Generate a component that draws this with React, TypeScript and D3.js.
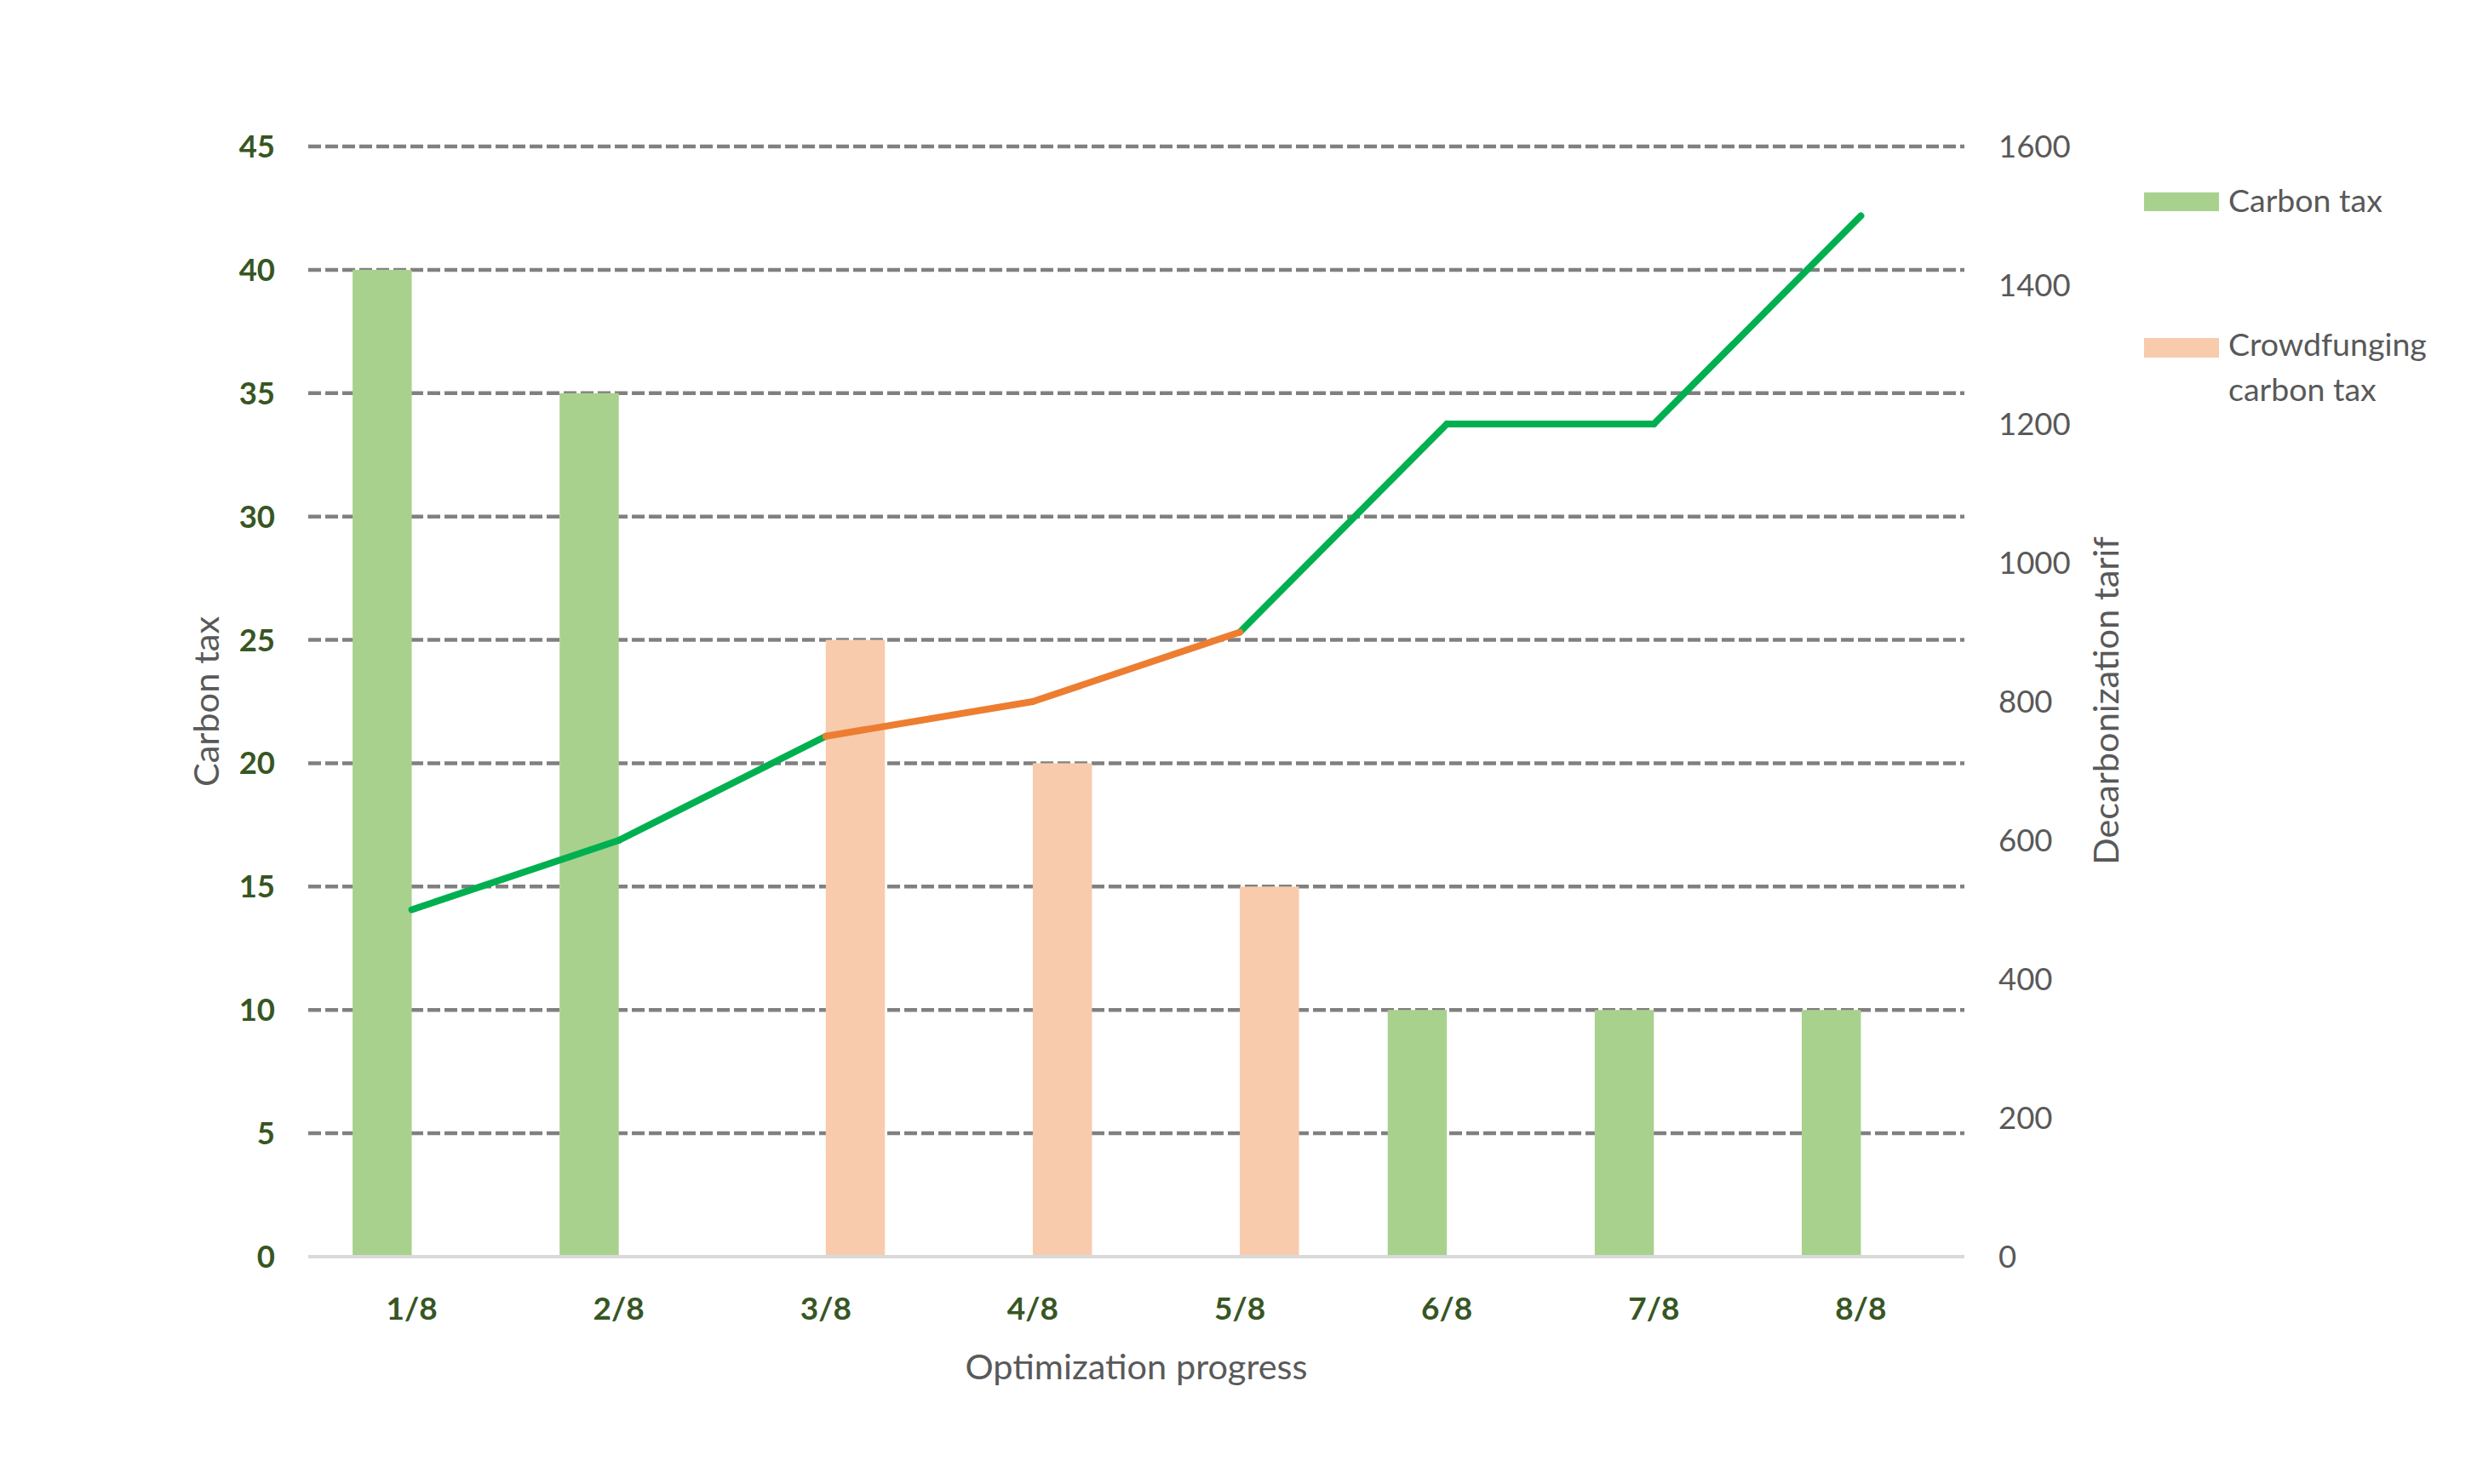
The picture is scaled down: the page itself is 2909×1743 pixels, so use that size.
import React, { useEffect, useRef } from 'react';
import * as d3 from 'd3';

const categories = ['1/8', '2/8', '3/8', '4/8', '5/8', '6/8', '7/8', '8/8'];
const carbonTax = [40, 35, 0, 0, 0, 10, 10, 10];
const crowdTax = [0, 0, 25, 20, 15, 0, 0, 0];
const tarif = [500, 600, 750, 800, 900, 1200, 1200, 1500];
const leftTicks = [0, 5, 10, 15, 20, 25, 30, 35, 40, 45];
const rightTicks = [0, 200, 400, 600, 800, 1000, 1200, 1400, 1600];

const W = 2909;
const H = 1743;
const m = { left: 362, right: 2307, top: 172, bottom: 1476 };
const font = 'Lato, "Open Sans", sans-serif';
const c = {
  green: '#A9D18E', peach: '#F8CBAD', lineGreen: '#00B050', lineOrange: '#ED7D31',
  grid: '#808080', base: '#D9D9D9', tick: '#375623', text: '#595959',
};

export default function App() {
  const ref = useRef<SVGSVGElement>(null);

  useEffect(() => {
    if (!ref.current) return;
    const svg = d3.select(ref.current);
    svg.selectAll('*').remove();

    const x = d3.scaleBand<string>().domain(categories).range([m.left, m.right]);
    const bw = x.bandwidth() / 3.5;
    const y = d3.scaleLinear().domain([0, 45]).range([m.bottom, m.top]);
    const y2 = d3.scaleLinear().domain([0, 1600]).range([m.bottom, m.top]);
    const cx = (d: string) => x(d)! + x.bandwidth() / 2;

    // gridlines
    svg.append('g').selectAll('line').data(leftTicks.filter(t => t > 0)).enter().append('line')
      .attr('x1', m.left).attr('x2', m.right).attr('y1', d => y(d)).attr('y2', d => y(d))
      .attr('stroke', c.grid).attr('stroke-width', 4.5).attr('stroke-dasharray', '15 5');

    // bars: carbon tax left of centre, crowdfunding right of centre
    svg.append('g').selectAll('rect').data(categories).enter().append('rect')
      .attr('x', d => cx(d) - bw).attr('width', bw)
      .attr('y', (d, i) => y(carbonTax[i])).attr('height', (d, i) => m.bottom - y(carbonTax[i]))
      .attr('fill', c.green);
    svg.append('g').selectAll('rect').data(categories).enter().append('rect')
      .attr('x', d => cx(d)).attr('width', bw)
      .attr('y', (d, i) => y(crowdTax[i])).attr('height', (d, i) => m.bottom - y(crowdTax[i]))
      .attr('fill', c.peach);

    // baseline
    svg.append('line').attr('x1', m.left).attr('x2', m.right).attr('y1', m.bottom).attr('y2', m.bottom)
      .attr('stroke', c.base).attr('stroke-width', 4);

    // tarif line, segments orange where both ends are crowdfunding steps
    const segs = d3.range(categories.length - 1).map(i => ({
      i, crowd: crowdTax[i] > 0 && crowdTax[i + 1] > 0,
    }));
    const pts = tarif.map((v, k) => [cx(categories[k]), y2(v)] as [number, number]);
    const seg = d3.line();
    svg.append('g').selectAll('path').data(segs.filter(s => !s.crowd)).enter().append('path')
      .attr('d', s => seg([pts[s.i], pts[s.i + 1]]))
      .attr('fill', 'none').attr('stroke', c.lineGreen).attr('stroke-width', 8).attr('stroke-linecap', 'round');
    svg.append('g').selectAll('path').data(segs.filter(s => s.crowd)).enter().append('path')
      .attr('d', s => seg([pts[s.i], pts[s.i + 1]]))
      .attr('fill', 'none').attr('stroke', c.lineOrange).attr('stroke-width', 8).attr('stroke-linecap', 'round');

    // left ticks
    svg.append('g').selectAll('text').data(leftTicks).enter().append('text')
      .attr('x', 323).attr('y', d => y(d) + 13).attr('text-anchor', 'end')
      .attr('font-family', font).attr('font-size', 36.5).attr('font-weight', 700).attr('fill', c.tick)
      .text(d => d);

    // right ticks
    svg.append('g').selectAll('text').data(rightTicks).enter().append('text')
      .attr('x', 2347).attr('y', d => y2(d) + 13).attr('text-anchor', 'start')
      .attr('font-family', font).attr('font-size', 36.5).attr('fill', c.text)
      .text(d => d);

    // category labels
    svg.append('g').selectAll('text').data(categories).enter().append('text')
      .attr('x', d => cx(d)).attr('y', 1550).attr('text-anchor', 'middle')
      .attr('font-family', font).attr('font-size', 37).attr('font-weight', 700).attr('fill', c.tick)
      .text(d => d);

    // axis titles
    svg.append('text').attr('x', (m.left + m.right) / 2).attr('y', 1620).attr('text-anchor', 'middle')
      .attr('font-family', font).attr('font-size', 41.5).attr('fill', c.text).text('Optimization progress');
    svg.append('text').attr('transform', 'translate(257,824) rotate(-90)').attr('text-anchor', 'middle')
      .attr('font-family', font).attr('font-size', 41.5).attr('fill', c.text).text('Carbon tax');
    svg.append('text').attr('transform', 'translate(2488,823) rotate(-90)').attr('text-anchor', 'middle')
      .attr('font-family', font).attr('font-size', 41.5).attr('fill', c.text).text('Decarbonization tarif');

    // legend
    const legend = svg.append('g').attr('font-family', font).attr('font-size', 37.5).attr('fill', c.text);
    legend.append('rect').attr('x', 2518).attr('y', 226).attr('width', 88).attr('height', 22).attr('fill', c.green);
    legend.append('text').attr('x', 2617).attr('y', 249).text('Carbon tax');
    legend.append('rect').attr('x', 2518).attr('y', 397).attr('width', 88).attr('height', 23).attr('fill', c.peach);
    legend.append('text').attr('x', 2617).attr('y', 418).text('Crowdfunging');
    legend.append('text').attr('x', 2617).attr('y', 471).text('carbon tax');
  }, []);

  return (
    <div style={{ position: 'absolute', left: 0, top: 0, background: '#fff' }}>
      <svg ref={ref} width={W} height={H} style={{ display: 'block' }} />
    </div>
  );
}
